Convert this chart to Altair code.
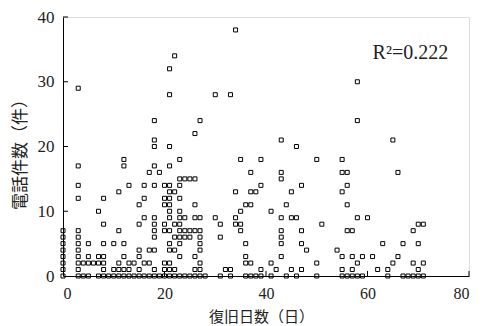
import altair as alt
import pandas as pd

# recovery days (x) and the call counts observed at each of them (y)
days = [0, 3, 4, 5, 6, 7, 8, 9, 10, 11, 12, 13, 14, 15, 16, 17, 18, 19,
        20, 21, 22, 23, 24, 25, 26, 27, 28, 30, 31, 32, 33, 34, 35, 36, 37,
        38, 39, 41, 42, 43, 44, 45, 46, 47, 48, 50, 51, 54, 55, 56, 57, 58,
        59, 60, 61, 62, 63, 64, 65, 66, 67, 68, 69, 70, 71]
calls_by_day = [
    [0, 1, 2, 3, 4, 5, 6, 7],
    [0, 1, 2, 3, 4, 5, 6, 7, 12, 14, 17, 29],
    [0, 2],
    [0, 2, 3, 5],
    [2],
    [0, 2, 3, 10],
    [0, 1, 2, 3, 5, 8, 12],
    [0],
    [0, 1, 5],
    [0, 1, 2, 7, 13],
    [0, 1, 3, 5, 17, 18],
    [0, 1, 2, 14],
    [0, 2],
    [0, 1, 3, 4, 8, 11],
    [0, 2, 9, 12, 14],
    [0, 2, 4, 16],
    [0, 1, 4, 6, 7, 8, 9, 14, 17, 20, 21, 24],
    [0, 16],
    [0, 1, 2, 7, 8, 11, 12, 14],
    [0, 1, 2, 4, 5, 7, 9, 10, 11, 12, 13, 14, 17, 20, 28, 32],
    [0, 1, 4, 6, 8, 13, 34],
    [0, 3, 5, 6, 7, 8, 9, 10, 12, 14, 15, 18],
    [0, 6, 7, 9, 15],
    [0, 6, 7, 15],
    [0, 1, 3, 7, 9, 11, 15, 22],
    [0, 1, 2, 4, 5, 6, 7, 9, 24],
    [0],
    [9, 28],
    [0, 6, 8],
    [1],
    [0, 1, 28],
    [8, 9, 13, 38],
    [7, 8, 10, 18],
    [0, 2, 3, 5, 11],
    [0, 2, 11, 13, 16],
    [0, 13],
    [0, 1, 14, 18],
    [0, 2, 10],
    [1],
    [3, 5, 6, 7, 9, 15, 16, 21],
    [0, 11],
    [1, 9, 13],
    [0, 9, 20],
    [1, 5, 7, 14],
    [4],
    [0, 2, 18],
    [8],
    [4],
    [0, 1, 3, 13, 16, 18],
    [0, 7, 11, 14, 16],
    [0, 1, 3, 7],
    [0, 2, 9, 24, 30],
    [0, 3],
    [9],
    [3],
    [1],
    [5],
    [0, 1],
    [2, 21],
    [3, 16],
    [0, 5],
    [0],
    [0, 2, 7],
    [0, 1, 5, 8],
    [0, 2, 8],
]

x_ticks = [0, 20, 40, 60, 80]
y_ticks = [0, 10, 20, 30, 40]
annotation_text = ["R²=0.222"]
annotation_x = [61]
annotation_y = [34.5]

rows = []
for d, cs in zip(days, calls_by_day):
    for c in cs:
        rows.append({"days": d, "calls": c})
df = pd.DataFrame(rows)

xscale = alt.Scale(domain=[0, 80], nice=False, zero=True)
yscale = alt.Scale(domain=[0, 40], nice=False, zero=True)

serif = "Liberation Serif"
cjk = "Noto Sans CJK JP"

points = alt.Chart(df).mark_square(
    size=16, filled=False, color="black", strokeWidth=1, opacity=1
).encode(
    x=alt.X("days:Q", scale=xscale, axis=alt.Axis(
        values=x_ticks, ticks=False, grid=False, domainColor="black",
        domainWidth=1, labelFont=serif, labelFontSize=16, labelColor="#222",
        labelPadding=9, title="復旧日数（日）", titleFont=cjk,
        titleFontSize=15, titleFontWeight="normal", titleColor="#222",
        titleX=198, titleY=40, titleAlign="center", titleBaseline="middle")),
    y=alt.Y("calls:Q", scale=yscale, axis=alt.Axis(
        values=y_ticks, ticks=False, grid=False, domainColor="black",
        domainWidth=1, labelFont=serif, labelFontSize=17, labelColor="#222",
        labelPadding=9, title="電話件数（件）", titleFont=cjk,
        titleFontSize=17, titleFontWeight="normal", titleColor="#222",
        titleX=-43, titleY=133, titleAlign="center", titleBaseline="middle")),
)

ytick_df = pd.DataFrame({"v": y_ticks[1:]})
yticks = alt.Chart(ytick_df).mark_rule(color="black", strokeWidth=1).encode(
    y=alt.Y("v:Q", scale=yscale), x=alt.value(0), x2=alt.value(5))

xtick_df = pd.DataFrame({"v": x_ticks[1:]})
xticks = alt.Chart(xtick_df).mark_rule(color="black", strokeWidth=1).encode(
    x=alt.X("v:Q", scale=xscale), y=alt.value(259), y2=alt.value(254))

ann_df = pd.DataFrame({"t": annotation_text, "x": annotation_x, "y": annotation_y})
ann = alt.Chart(ann_df).mark_text(
    font=serif, fontSize=20, color="#222", align="left", baseline="middle"
).encode(x=alt.X("x:Q", scale=xscale), y=alt.Y("y:Q", scale=yscale), text="t:N")

chart = alt.layer(points, yticks, xticks, ann).properties(
    width=406, height=259,
    autosize=alt.AutoSizeParams(type="none"),
    padding={"left": 63, "top": 17, "right": 11, "bottom": 50},
).configure_view(stroke=None).configure(background="white")

chart.save("out.html", embed_options={"renderer": "svg", "actions": False})
